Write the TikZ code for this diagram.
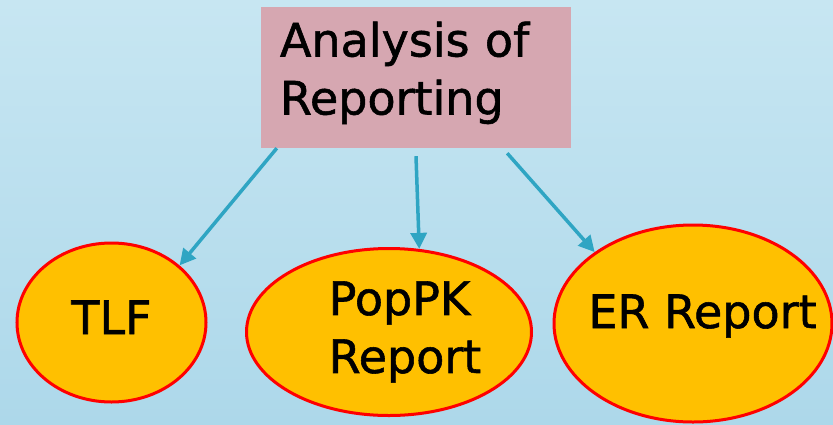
\documentclass[tikz,border=0pt]{standalone}
\usepackage{fontspec}
\setmainfont{DejaVu Sans}[FakeBold=1.2]
\usepackage{xcolor}
\usepackage{tikz}
\usetikzlibrary{arrows.meta,shapes.geometric}

\definecolor{bgtop}{HTML}{C7E6F2}
\definecolor{bgbottom}{HTML}{ADD8EA}
\definecolor{boxpink}{HTML}{D6A7B1}
\definecolor{ovalfill}{HTML}{FFC000}
\definecolor{ovalred}{HTML}{FF0000}
\definecolor{arrowteal}{HTML}{2FA5C3}

\begin{document}
\begin{tikzpicture}[
  x=1pt, y=-1pt,
  big/.style={font=\fontsize{46pt}{58pt}\selectfont},
  topic/.style={big, fill=boxpink, align=left, text width=272pt, inner xsep=19pt, minimum height=141pt},
  oval/.style={big, ellipse, draw=ovalred, line width=3pt, fill=ovalfill, inner sep=0pt},
  arr/.style={-{Triangle[length=16pt,width=16pt]}, line width=3.5pt, arrowteal}
]
% background
\useasboundingbox (0,0) rectangle (833,424);
\fill[top color=bgtop, bottom color=bgbottom] (0,0) rectangle (833,424);

\node[topic, text height=35pt, text depth=77pt] (ana) at (416,77.5) {Analysis of\\Reporting};

\node[oval, minimum width=189pt, minimum height=159pt, text height=35pt, text depth=12pt] (tlf) at (111.5,322.5) {TLF};
\node[oval, minimum width=285pt, minimum height=167pt, align=left] (pop) at (389,332)
  {\hspace*{32pt}PopPK\\\hspace*{32pt}Report};
\node[oval, minimum width=278pt, minimum height=197pt, inner xsep=-30pt, text height=35pt, text depth=26pt] (er) at (693,323.5)
  {\hspace*{19pt}ER Report};

\draw[arr] ([xshift=16pt]ana.south west) -- (tlf.40);
\draw[arr] ([yshift=-8pt]ana.south) -- (pop.70);
\draw[arr] ([xshift=-64pt,yshift=-5pt]ana.south east) -- (er.144);
\end{tikzpicture}
\end{document}
